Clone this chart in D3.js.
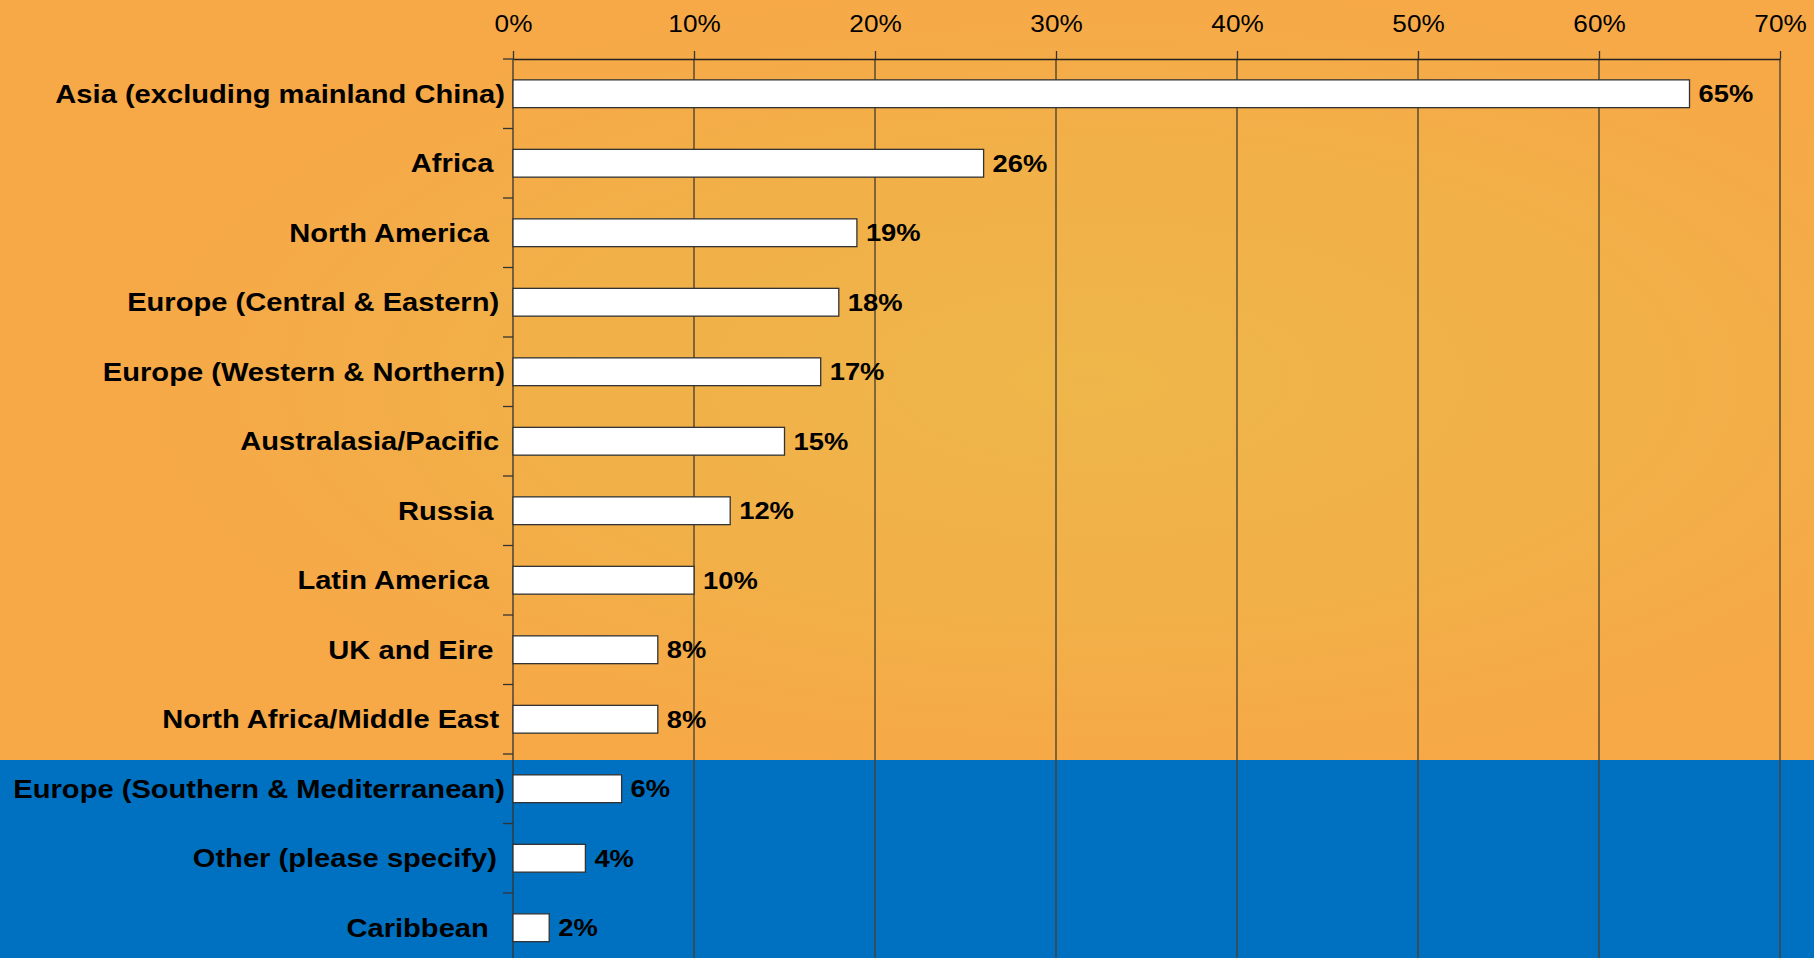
<!DOCTYPE html>
<html>
<head>
<meta charset="utf-8">
<script src="https://cdn.jsdelivr.net/npm/d3@7"></script>
<style>
  html, body { margin: 0; padding: 0; background: #F7A847; overflow: hidden; }
  svg { display: block; }
  text { font-family: "Liberation Sans", Arial, Helvetica, sans-serif; }
</style>
</head>
<body>
<svg id="chart" width="1814" height="958"></svg>
<script>
// ---- data ----
const categories = [
  "Asia (excluding mainland China)",
  "Africa\u2009\u2009",
  "North America  ",
  "Europe (Central & Eastern)\u2009",
  "Europe (Western & Northern)",
  "Australasia/Pacific\u2009",
  "Russia\u2009\u2009",
  "Latin America  ",
  "UK and Eire\u2009\u2009",
  "North Africa/Middle East\u2009",
  "Europe (Southern & Mediterranean)",
  "Other (please specify) ",
  "Caribbean  "
];
const values = [65, 26, 19, 18, 17, 15, 12, 10, 8, 8, 6, 4, 2];
const tickValues = [0, 10, 20, 30, 40, 50, 60, 70];
const tickLabels = ["0%", "10%", "20%", "30%", "40%", "50%", "60%", "70%"];

// ---- layout ----
const W = 1814, H = 958;
const x0 = 513, x1 = 1780, yTop = 59, step = 69.5;
const svg = d3.select("#chart");

const x = d3.scaleLinear().domain([0, 70]).range([x0, x1]);
const y = d3.scaleBand().domain(categories)
  .range([yTop, yTop + step * categories.length])
  .paddingInner(0.6).paddingOuter(0.3);

// background
const defs = svg.append("defs");
const grad = defs.append("radialGradient").attr("id", "bg")
  .attr("cx", 0.6).attr("cy", 0.5).attr("r", 0.55);
grad.append("stop").attr("offset", "0%").attr("stop-color", "#EEB64A");
grad.append("stop").attr("offset", "60%").attr("stop-color", "#F2AF48");
grad.append("stop").attr("offset", "100%").attr("stop-color", "#F7A847");
svg.append("rect").attr("x", 0).attr("y", 0).attr("width", W).attr("height", 760)
  .attr("fill", "url(#bg)");
svg.append("rect").attr("x", 0).attr("y", 760).attr("width", W).attr("height", H - 760)
  .attr("fill", "#0070C0");

// gridlines
svg.append("g").selectAll("line").data(tickValues.filter(d => d > 0)).join("line")
  .attr("x1", d => x(d)).attr("x2", d => x(d))
  .attr("y1", yTop).attr("y2", H)
  .attr("stroke", "#4a4030").attr("stroke-opacity", 0.85).attr("stroke-width", 1.6);

// top axis
const xAxis = d3.axisTop(x).tickValues(tickValues)
  .tickFormat((d, i) => tickLabels[i]).tickSize(8).tickSizeOuter(0).tickPadding(0);
const gx = svg.append("g").attr("transform", `translate(0,${yTop})`).call(xAxis);
gx.select(".domain").attr("stroke", "#222").attr("stroke-width", 1.3);
gx.selectAll(".tick line").attr("stroke", "#333").attr("stroke-width", 1.3);
gx.selectAll(".tick text")
  .attr("y", 31.5 - yTop).attr("dy", null)
  .attr("transform", "scale(1.09,1)")
  .attr("font-size", 24).attr("fill", "#000")
  .attr("font-family", "Liberation Sans, Arial, sans-serif");

// left axis line + ticks at band boundaries
svg.append("line").attr("x1", x0).attr("x2", x0).attr("y1", yTop).attr("y2", H)
  .attr("stroke", "#333").attr("stroke-width", 1.3);
const boundaries = d3.range(0, categories.length).map(i => yTop + i * y.step());
svg.append("g").selectAll("line").data(boundaries).join("line")
  .attr("x1", x0 - 10).attr("x2", x0).attr("y1", d => d).attr("y2", d => d)
  .attr("stroke", "#333").attr("stroke-width", 1.3);

// bars
const rows = categories.map((c, i) => ({ c, v: values[i] }));
svg.append("g").selectAll("rect").data(rows).join("rect")
  .attr("x", x(0)).attr("y", d => y(d.c))
  .attr("width", d => x(d.v) - x(0)).attr("height", y.bandwidth())
  .attr("fill", "#fff").attr("stroke", "#333").attr("stroke-width", 1.3);

// value labels
svg.append("g").selectAll("text").data(rows).join("text")
  .attr("transform", d => `translate(${x(d.v) + 9},${y(d.c) + y.bandwidth() / 2 + 8.5}) scale(1.14,1)`)
  .attr("font-size", 24).attr("font-weight", "bold").attr("fill", "#000")
  .text(d => d.v + "%");

// category labels
svg.append("g").selectAll("text").data(rows).join("text")
  .attr("transform", d => `translate(${x0 - 8},${y(d.c) + y.bandwidth() / 2 + 9}) scale(1.12,1)`)
  .attr("text-anchor", "end")
  .style("white-space", "pre")
  .attr("font-size", 26).attr("font-weight", "bold").attr("fill", "#000")
  .text(d => d.c);
</script>
</body>
</html>
